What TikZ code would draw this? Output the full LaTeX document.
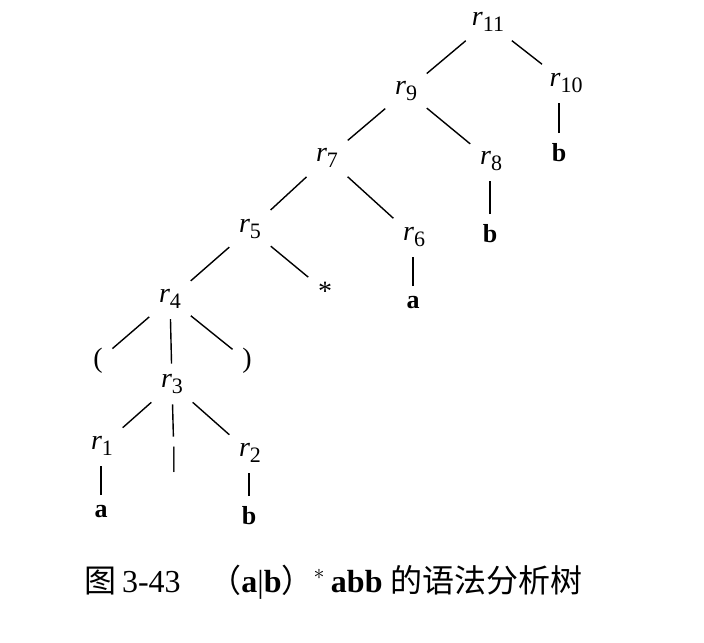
\documentclass[tikz,border=0pt]{standalone}
\usepackage{fontspec}
\setmainfont{Liberation Serif}
\newfontfamily\cjk{Noto Sans CJK SC}
\usepackage{tikz}
\usetikzlibrary{positioning}
\newcommand\rsub[1]{\textit{r}\raisebox{-0.45ex}{\fontsize{11}{11}\selectfont #1}}

\begin{document}
\begin{tikzpicture}[x=0.5pt,y=-0.5pt, every node/.style={inner sep=3pt,font=\fontsize{14}{16}\selectfont}, leaf/.style={font=\fontsize{13}{15}\selectfont\bfseries}, line width=0.7pt, shorten >=2pt, shorten <=2pt]
	\useasboundingbox (0,0) rectangle (704,642);
	\node (r11) at (488,22) {\rsub{11}};
	\node (r9) at (406,91) {\rsub{9}};
	\node (r10) at (566,83) {\rsub{10}};
	\node [leaf] (b10) at (559,153) {b};
	\node (r7) at (327,158) {\rsub{7}};
	\node (r8) at (491,161) {\rsub{8}};
	\node [leaf] (b8) at (490,234) {b};
	\node (r5) at (250,229) {\rsub{5}};
	\node (r6) at (414,237) {\rsub{6}};
	\node [leaf] (a6) at (413,303) {a};
	\node (r4) at (170,299) {\rsub{4}};
	\node (star) at (325,291) {*};
	\node (lp) at (98,361) {(};
	\node (rp) at (247,361) {)};
	\node (r3) at (172,384) {\rsub{3}};
	\node (r1) at (102,446) {\rsub{1}};
	\node (bar) at (174,460) {|};
	\node (r2) at (250,453) {\rsub{2}};
	\node [leaf] (a1) at (101,512) {a};
	\node [leaf] (b2) at (249,516) {b};
	\draw (r11) -- (r9);
	\draw (r11) -- (r10);
	\draw (b10.north) -- (b10.north |- r10.south);
	\draw (r9) -- (r7);
	\draw (r9) -- (r8);
	\draw (b8.north) -- (b8.north |- r8.south);
	\draw (r7) -- (r5);
	\draw (r7) -- (r6);
	\draw (a6.north) -- (a6.north |- r6.south);
	\draw (r5) -- (r4);
	\draw (r5) -- (star);
	\draw (r4) -- (lp);
	\draw (r4) -- (r3);
	\draw (r4) -- (rp);
	\draw (r3) -- (r1);
	\draw (r3) -- (bar);
	\draw (r3) -- (r2);
	\draw (a1.north) -- (a1.north |- r1.south);
	\draw (b2.north) -- (b2.north |- r2.south);
	% caption
	\node [font=\fontsize{16}{18}\selectfont, anchor=west] (cap) at (78,582) {{\cjk 图}\,3-43\hspace{0.9em}{\cjk （}\textbf{a}|\textbf{b}{\cjk ）}$^{*}$\,\textbf{abb} {\cjk 的语法分析树}};
\end{tikzpicture}
\end{document}
